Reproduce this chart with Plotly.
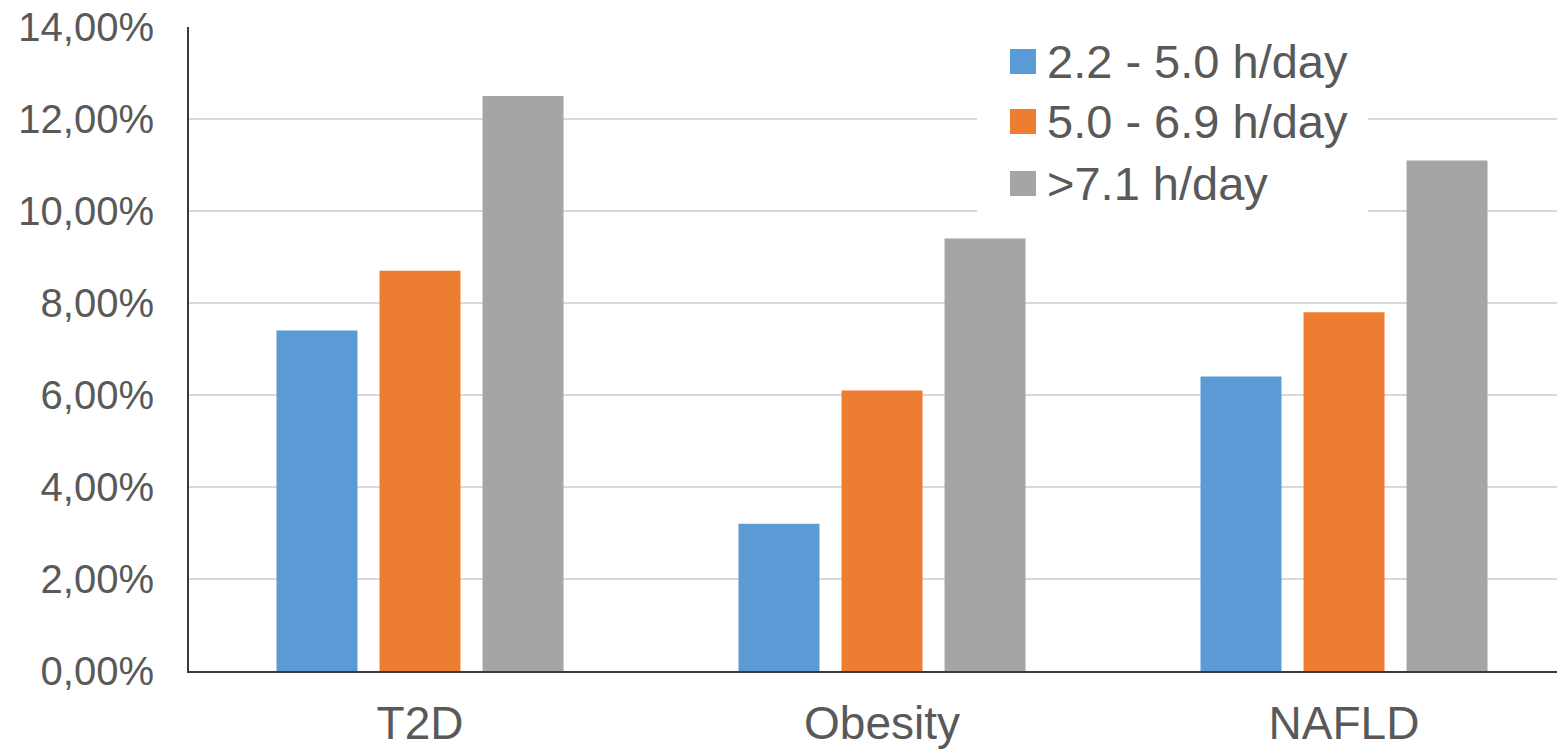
import plotly.graph_objects as go

# Share of participants per condition, by daily sitting time
categories = ["T2D", "Obesity", "NAFLD"]
series_names = ["2.2 - 5.0 h/day", "5.0 - 6.9 h/day", ">7.1 h/day"]
low_sitting = [0.074, 0.032, 0.064]
mid_sitting = [0.087, 0.061, 0.078]
high_sitting = [0.125, 0.094, 0.111]
colors = ["#5B9BD5", "#ED7D31", "#A5A5A5"]

y_ticks = [0, 0.02, 0.04, 0.06, 0.08, 0.10, 0.12, 0.14]

W, H = 1557, 749
ML, MR, MT, MB = 189, 0, 27, 78
PW, PH = W - ML - MR, H - MT - MB

FONT = "Liberation Sans, Arial, sans-serif"
TXT = "#595959"

fig = go.Figure()
for name, vals, col in zip(series_names, [low_sitting, mid_sitting, high_sitting], colors):
    fig.add_trace(go.Bar(x=categories, y=vals, name=name, marker_color=col,
                         marker_line_width=0, showlegend=False))


def px_x(px):
    return (px - ML) / PW


def px_y(py):
    return (H - MB - py) / PH


shapes = [
    # white panel behind the legend entries
    dict(type="rect", xref="paper", yref="paper", layer="above",
         x0=px_x(977), x1=px_x(1368), y0=px_y(218), y1=px_y(31),
         fillcolor="white", line_width=0),
]
annotations = []
row_centers = [61.5, 121.5, 183.5]
for name, col, cy in zip(series_names, colors, row_centers):
    shapes.append(dict(type="rect", xref="paper", yref="paper", layer="above",
                       x0=px_x(1010), x1=px_x(1036), y0=px_y(cy + 12.5), y1=px_y(cy - 12.5),
                       fillcolor=col, line_width=0))
    annotations.append(dict(xref="paper", yref="paper", x=px_x(1045), y=px_y(cy),
                            xanchor="left", yanchor="middle", showarrow=False,
                            text=name, font=dict(family=FONT, size=47, color=TXT)))

fig.update_layout(
    width=W, height=H,
    margin=dict(l=ML, r=MR, t=MT, b=MB, pad=0, autoexpand=False),
    paper_bgcolor="white", plot_bgcolor="white",
    barmode="group", bargap=0.331, bargroupgap=0.214,
    separators=",.",
    font=dict(family=FONT, color=TXT),
    shapes=shapes, annotations=annotations,
    xaxis=dict(range=[-0.5, 2.461], showgrid=False, showline=True, automargin=False,
               linecolor="#3a3a3a", linewidth=2, ticks="",
               tickfont=dict(size=46, color=TXT), ticklabelstandoff=11),
    yaxis=dict(range=[0, 0.14], tickvals=y_ticks, tickformat=".2%", automargin=False,
               showgrid=True, gridcolor="#D9D9D9", gridwidth=2,
               showline=True, linecolor="#3a3a3a", linewidth=2,
               zeroline=False, ticks="",
               tickfont=dict(size=40, color=TXT), ticklabelstandoff=25),
)

fig.write_html("out.html")
